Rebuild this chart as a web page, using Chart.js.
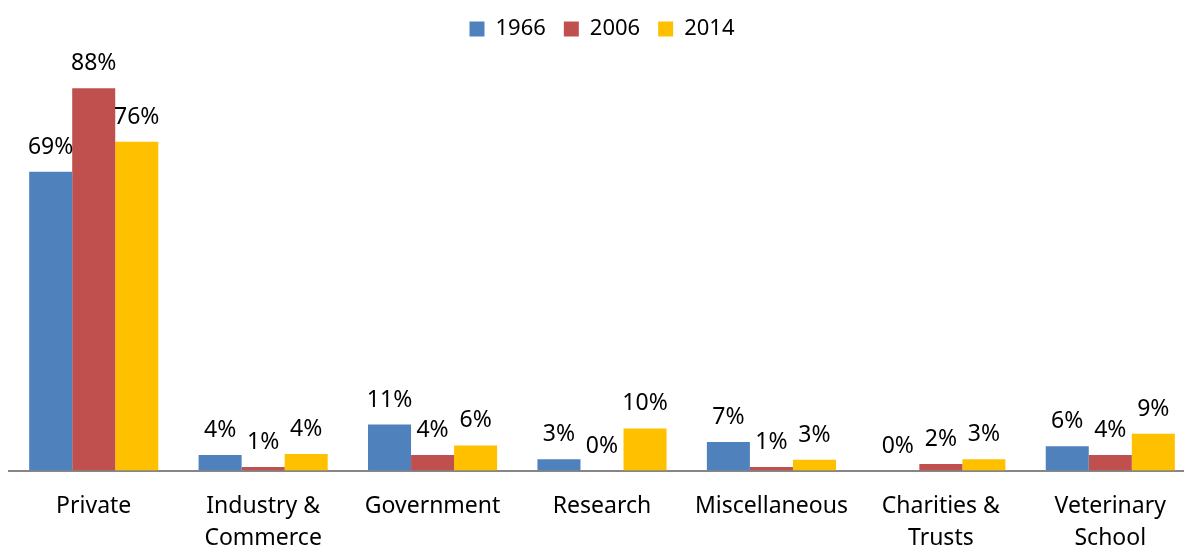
<!DOCTYPE html>
<html>
<head>
<meta charset="utf-8">
<script src="https://cdn.jsdelivr.net/npm/chart.js@4"></script>
<style>
  html, body { margin: 0; padding: 0; background: #fff; overflow: hidden; }
  #wrap { width: 1184px; height: 547px; overflow: hidden; }
</style>
</head>
<body>
<div id="wrap"><canvas id="myChart" width="1195" height="547"></canvas></div>
<script>
// categories and series (percent)
const categories = ['Private', ['Industry &', 'Commerce'], 'Government', 'Research',
                    'Miscellaneous', ['Charities &', 'Trusts'], ['Veterinary', 'School']];
const years = ['1966', '2006', '2014'];
const values1966 = [68.8, 3.6, 10.6, 2.6, 6.6, 0, 5.6];
const values2006 = [88, 0.8, 3.6, 0, 0.8, 1.5, 3.6];
const values2014 = [75.7, 3.8, 5.8, 9.7, 2.5, 2.6, 8.5];
const colors = ['#4F81BD', '#C0504D', '#FFC000'];

const fontFamily = '"Noto Sans", "Open Sans", sans-serif';

// draws the value above each bar
const barLabels = {
  id: 'barLabels',
  afterDatasetsDraw(chart) {
    const ctx = chart.ctx;
    ctx.save();
    ctx.font = '23px ' + fontFamily;
    ctx.fillStyle = '#000';
    ctx.textAlign = 'center';
    ctx.textBaseline = 'alphabetic';
    chart.data.datasets.forEach((ds, i) => {
      let meta = chart.getDatasetMeta(i);
      meta.data.forEach((bar, j) => {
        let txt = Math.round(ds.data[j]) + '%';
        ctx.fillText(txt, bar.x, bar.y - 18);
      });
    });
    ctx.restore();
  }
};

new Chart(document.getElementById('myChart'), {
  type: 'bar',
  data: {
    labels: categories,
    datasets: [
      { label: years[0], data: values1966, backgroundColor: colors[0] },
      { label: years[1], data: values2006, backgroundColor: colors[1] },
      { label: years[2], data: values2014, backgroundColor: colors[2] }
    ]
  },
  options: {
    responsive: false,
    animation: false,
    layout: { padding: { left: 9, right: 0, top: 0, bottom: -28 } },
    datasets: { bar: { categoryPercentage: 0.762, barPercentage: 1 } },
    plugins: {
      legend: {
        position: 'top',
        labels: {
          color: '#000',
          boxWidth: 15,
          boxHeight: 15,
          padding: 18,
          font: { family: fontFamily, size: 22 }
        }
      },
      tooltip: { enabled: false }
    },
    scales: {
      x: {
        grid: { display: false, drawTicks: false },
        border: { color: '#868686', width: 2 },
        ticks: { color: '#000', padding: 20, font: { family: fontFamily, size: 23, lineHeight: 1.4 }, maxRotation: 0, autoSkip: false }
      },
      y: {
        display: false,
        min: 0,
        max: 96.8
      }
    }
  },
  plugins: [barLabels]
});
</script>
</body>
</html>
